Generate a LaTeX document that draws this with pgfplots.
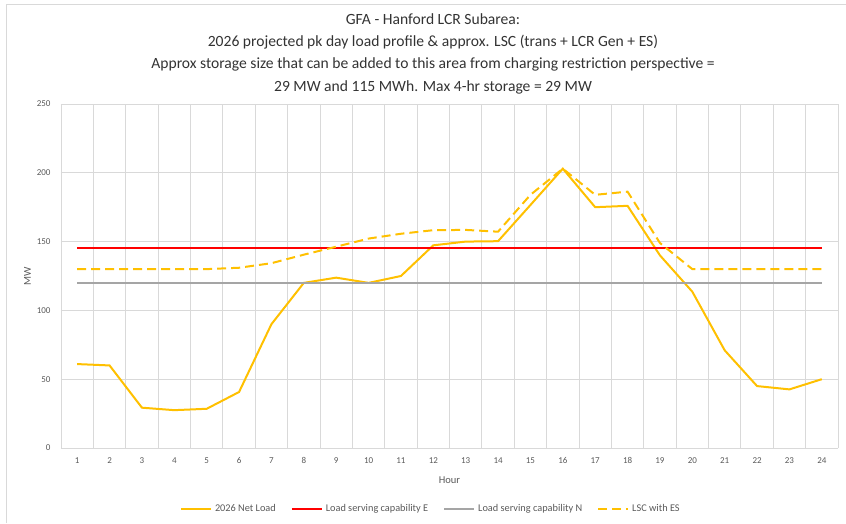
\documentclass[border=0pt]{standalone}
\usepackage{fontspec}
\setmainfont{Carlito}
\usepackage{pgfplots}
\pgfplotsset{compat=1.18}
\definecolor{gold}{HTML}{FFC000}
\definecolor{redE}{HTML}{FF0000}
\definecolor{grayN}{HTML}{A5A5A5}
\definecolor{gridc}{HTML}{D9D9D9}
\definecolor{txt}{HTML}{595959}
\definecolor{frame}{HTML}{D9D9D9}
\begin{document}
\begin{tikzpicture}[x=1pt,y=1pt]
\useasboundingbox (0,0) rectangle (846,523);
\draw[frame, line width=1pt] (6,0) -- (6,518) -- (846,518);
\begin{axis}[
  at={(61pt,75pt)}, anchor=south west,
  scale only axis, width=777pt, height=344pt,
  xmin=0.5, xmax=24.5, ymin=0, ymax=250,
  xtick={1,...,24},
  minor xtick={0.5,1.5,...,24.5},
  ytick={0,50,...,250},
  xminorgrids, ymajorgrids,
  minor grid style={gridc, line width=0.8pt},
  major grid style={gridc, line width=0.8pt},
  axis line style={draw=none},
  major tick length=0pt, minor tick length=0pt,
  tick label style={font=\fontsize{9}{10}\selectfont, text=txt},
  /pgf/number format/assume math mode=true,
  xticklabel style={yshift=-6pt},
  yticklabel style={xshift=-7pt},
  xlabel={Hour}, ylabel={MW},
  label style={font=\fontsize{10.5}{12}\selectfont, text=txt},
  xlabel style={yshift=-6pt},
  ylabel style={yshift=-1pt},
  legend columns=4,
  legend style={at={(0.476,-0.177)}, anchor=center, draw=none, fill=none,
    font=\fontsize{10.3}{12}\selectfont, text=txt,
    /tikz/every even column/.append style={column sep=13pt},
    /tikz/every odd column/.append style={column sep=1pt}},
  legend image code/.code={\draw[#1, line width=2pt] (0pt,0pt) -- (30pt,0pt);},
]
\addplot[gold, line width=2pt] coordinates {
(1,61) (2,60) (3,29.3) (4,27.5) (5,28.5) (6,40.7) (7,90) (8,120) (9,123.8) (10,120)
(11,125) (12,147.3) (13,150) (14,150.3) (15,176.6) (16,203) (17,175) (18,176)
(19,140) (20,113.6) (21,71) (22,45) (23,42.6) (24,50)};
\addlegendentry{2026 Net Load}
\addplot[redE, line width=2pt] coordinates {(1,145) (24,145)};
\addlegendentry{Load serving capability E}
\addplot[grayN, line width=2pt] coordinates {(1,120) (24,120)};
\addlegendentry{Load serving capability N}
\addplot[gold, line width=2pt, dash pattern=on 9pt off 5pt] coordinates {
(1,130) (2,130) (3,130) (4,130) (5,130) (6,131) (7,134.3) (8,140.5) (9,146.3) (10,152.2)
(11,155.7) (12,158.3) (13,158.5) (14,157.2) (15,184) (16,203) (17,184) (18,186.3)
(19,149) (20,130) (21,130) (22,130) (23,130) (24,130)};
\addlegendentry{LSC with ES}
\end{axis}
\node[align=center, text=black!80, font=\fontsize{15.6}{22.3}\selectfont] at (433,469.5)
{GFA - Hanford LCR Subarea:\\
2026 projected pk day load profile \& approx. LSC (trans + LCR Gen + ES)\\
Approx storage size that can be added to this area from charging restriction perspective =\\
29 MW and 115 MWh. Max 4-hr storage = 29 MW};
\end{tikzpicture}
\end{document}
